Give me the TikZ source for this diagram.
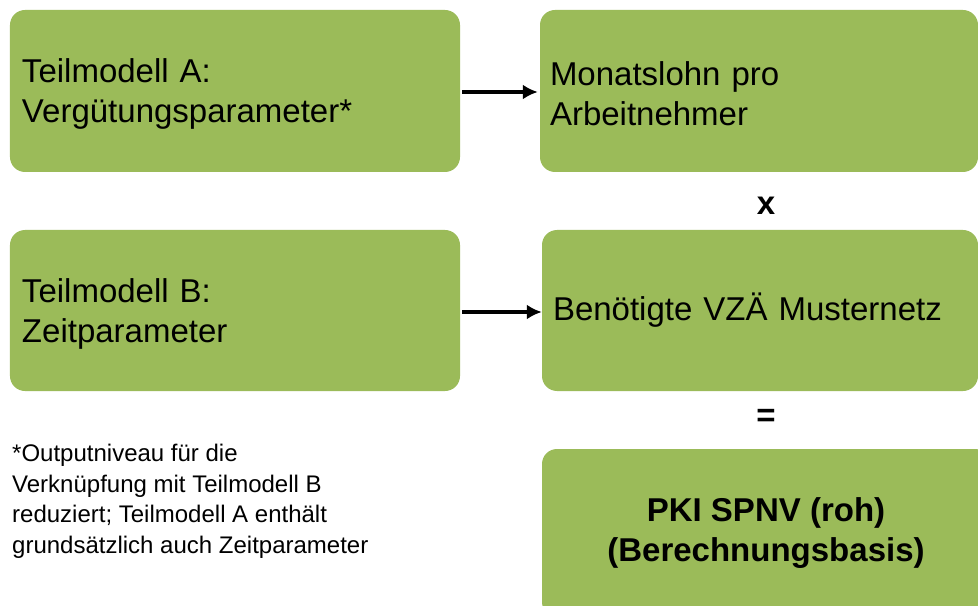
\documentclass[tikz,border=0pt]{standalone}
\usepackage{fontspec}
\setmainfont{Liberation Sans}
\usetikzlibrary{arrows.meta}

\definecolor{boxgreen}{RGB}{155,187,89}

\begin{document}
\begin{tikzpicture}[x=1bp, y=-1bp,
    box/.style={fill=boxgreen, rounded corners=15bp, inner ysep=0pt,
                font=\fontsize{33bp}{40bp}\selectfont},
    link/.style={line width=3.5bp, -{Latex[length=15bp,width=15bp]}},
    sign/.style={font=\fontsize{33bp}{40bp}\selectfont\bfseries, inner sep=0pt}]
            \clip (0,0) rectangle (978,606);

            % Boxes
            \node[box, minimum width=450bp, minimum height=162bp, text width=426bp, inner xsep=12bp, align=left]
                (TeilA) at (235,91) {\rule{0pt}{30bp}Teilmodell A:\\Vergütungsparameter*};
            \node[box, minimum width=438bp, minimum height=162bp, text width=418bp, inner xsep=10bp, align=left]
                (Lohn) at (759,91) {\rule{0pt}{30bp}Monatslohn pro\\Arbeitnehmer};
            \node[box, minimum width=450bp, minimum height=161bp, text width=426bp, inner xsep=12bp, align=left]
                (TeilB) at (235,310.5) {\rule{0pt}{30bp}Teilmodell B:\\Zeitparameter};
            \node[box, minimum width=436bp, minimum height=161bp, text width=414bp, inner xsep=11bp, align=left]
                (VZA) at (760,310.5) {Benötigte VZÄ Musternetz};
            \node[box, minimum width=448bp, minimum height=168bp, align=center, font=\fontsize{33bp}{40bp}\selectfont\bfseries]
                (PKI) at (766,533) {PKI SPNV (roh)\\(Berechnungsbasis)};

            % Draw arrows
            \draw[link, shorten <=2bp, shorten >=2bp] (TeilA.east |- 0,92) -- (Lohn.west |- 0,92);
            \draw[link, shorten <=2bp] (TeilB.east |- 0,312) -- (VZA.west |- 0,312);

            % Operators
            \node[sign] (mal) at (766,206) {x};
            \node[sign] (gleich) at (766,418) {=};

            % Footnote
            \node[anchor=north west, inner sep=0pt, align=left, font=\fontsize{24bp}{30.7bp}\selectfont]
                (note) at (12,444) {*Outputniveau für die\\Verknüpfung mit Teilmodell B\\reduziert; Teilmodell A enthält\\grundsätzlich auch Zeitparameter};
\end{tikzpicture}
\end{document}
